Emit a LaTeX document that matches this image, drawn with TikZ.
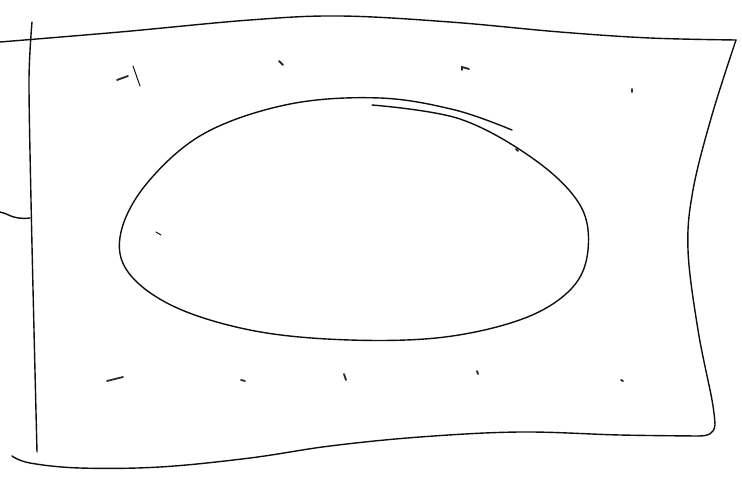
\documentclass[tikz,border=0pt]{standalone}
\usepackage{tikz}
\usepackage{xcolor}
\usetikzlibrary{calc}
\definecolor{penInk}{RGB}{15,15,15}
\definecolor{speckInk}{RGB}{40,40,40}
\tikzset{
  pen/.style={draw=penInk,line width=1.4pt,line cap=round,line join=round},
  thinpen/.style={draw=penInk,line width=1pt,line cap=round},
  speck/.style={draw=speckInk,line width=1.8pt,line cap=round}
}

\begin{document}
\begin{tikzpicture}[x=1pt,y=-1pt]
\useasboundingbox (0,0) rectangle (742,495);
% sheet outline
\draw[pen] plot[smooth,tension=.6] coordinates {(0,42) (120,32) (250,20) (340,16) (450,22) (560,32) (650,38) (736,40)};
\draw[pen] plot[smooth,tension=.6] coordinates {(736,40) (712,115) (693,190) (688,250) (698,330) (712,400) (715,425)}
  .. controls (714,434) and (708,436) .. (698,436);
\draw[pen] plot[smooth,tension=.6] coordinates {(698,436) (620,435) (520,432) (420,437) (330,446) (250,458) (160,467) (80,468) (30,463) (12,456)};
\draw[pen] plot[smooth,tension=.5] coordinates {(32,22) (29,80) (31,200) (34,330) (37,452)};
\draw[pen] (0,212) .. controls (8,213) and (12,220) .. (30,218);
% oval
\draw[pen] plot[smooth,tension=.6] coordinates {(372,105) (460,119) (535,160) (580,205) (588,250) (572,288) (525,318) (445,337) (350,340) (255,331) (175,307) (128,272) (121,232) (148,182) (205,133) (290,104) (380,98) (455,110) (512,130)};
% specks
\draw[speck] (117,80) -- (128,76);
\draw[thinpen] (133,66) -- (140,86);
\draw[speck] (279,61) -- (283,65);
\draw[speck] (462,70) -- (462,67) -- (469,69);
\draw[speck] (632,89) -- (632,92);
\draw[speck] (516,149) -- (518,151);
\draw[thinpen] (156,232) -- (161,235);
\draw[speck] (107,381) -- (123,377);
\draw[speck] (241,380) -- (245,381);
\draw[speck] (344,374) -- (346,380);
\draw[speck] (477,371) -- (478,374);
\draw[speck] (621,380) -- (623,381);
\end{tikzpicture}
\end{document}
